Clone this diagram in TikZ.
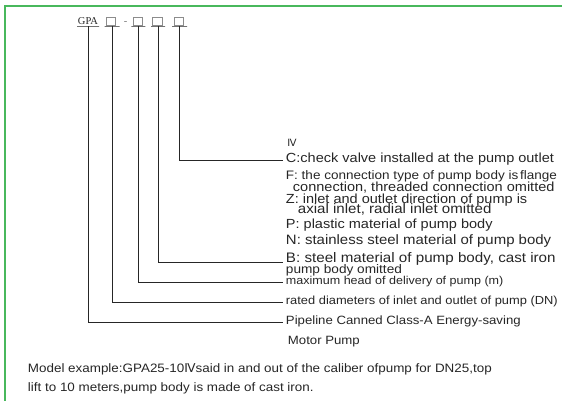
\documentclass[tikz,border=0pt]{standalone}
\usepackage{fontspec}
\setmainfont{Liberation Sans}
\newfontfamily\itemfont[FakeStretch=1.1]{Liberation Sans}
\newfontfamily\codefont{Liberation Serif}
\newfontfamily\numfont{DejaVu Sans}
\newcommand{\sz}[1]{\fontsize{#1}{#1}\selectfont\itemfont}
\newcommand{\rom}{{\numfont Ⅳ}}
\definecolor{framegreen}{RGB}{72,184,92}

\begin{document}
\begin{tikzpicture}[x=1pt,y=-1pt,line width=0.9pt,color=black!85,
    bar/.style={draw,minimum height=0pt,inner sep=0pt,line width=0.7pt},
    slot/.style={draw=black!45,line width=0.5pt,minimum width=9.5pt,minimum height=8pt,inner sep=0pt},
    item/.style={anchor=mid west,inner xsep=2.5pt,inner ysep=0pt}]
    \useasboundingbox (0,0) rectangle (562,401);
    \draw[framegreen,line width=2pt] (4.5,401) -- (4.5,6.5) -- (562,6.5);
    % model code
    \node[inner sep=0pt,anchor=base,font=\codefont\fontsize{10.5}{10.5}\selectfont] (gpa) at (88,24.5) {GPA};
    \node[slot] (s1) at (110.5,21.3) {};
    \node[inner sep=0pt,anchor=base,black!55,font=\codefont\fontsize{10.5}{10.5}\selectfont] (dash) at (125.5,24.5) {-};
    \node[slot] (s2) at (137.5,21.3) {};
    \node[slot] (s3) at (157,21.3) {};
    \node[slot] (s4) at (178.5,21.3) {};
    \node[bar,minimum width=22pt] (u0) at (88,26) {};
    \node[bar,minimum width=15pt] (u1) at (112,26) {};
    \node[bar,minimum width=14pt] (u2) at (138.3,26) {};
    \node[bar,minimum width=14pt] (u3) at (158,26) {};
    \node[bar,minimum width=15pt] (u4) at (179.5,26) {};
    % meanings
    \node[font=\sz{10}\numfont,inner sep=0pt] (rom) at (292,143) {Ⅳ};
    \node[item,font=\sz{13.2}] (lblC) at (283,160) {C:check valve installed at the pump outlet};
    \node[item,font=\sz{12.3}] (lblF) at (283,176.5) {F: the connection type of pump body is\hspace{-2pt} flange};
    \node[item,font=\sz{13.2}] (lblFb) at (290,188.5) {connection, threaded connection omitted};
    \node[item,font=\sz{13.2}] (lblZ) at (283,200.5) {Z: inlet and outlet direction of pump is};
    \node[item,font=\sz{13.7}] (lblZb) at (295,211) {axial inlet, radial inlet omitted};
    \node[item,font=\sz{13.2}] (lblP) at (283,226) {P: plastic material of pump body};
    \node[item,font=\sz{13.6}] (lblN) at (283,242) {N: stainless steel material of pump body};
    \node[item,anchor=base west,font=\sz{13.8}] (lblB) at (283,262) {B: steel material of pump body, cast iron};
    \node[item,font=\sz{12.4}] (lblBb) at (283,271) {pump body omitted};
    \node[item,font=\sz{11.4}] (lblHead) at (283,282) {maximum head of delivery of pump (m)};
    \node[item,font=\sz{11.7}] (lblDN) at (283,302) {rated diameters of inlet and outlet of pump (DN)};
    \node[item,font=\sz{12}] (lblPipe) at (283,322) {Pipeline Canned Class-A Energy-saving};
    \node[item,font=\sz{12}] (lblMotor) at (285,342) {Motor Pump};
    \node[item,font=\sz{12.2}] (ex1) at (25,370) {Model example:GPA25-10\rom said in and out of the caliber ofpump for DN25,top};
    \node[item,font=\sz{12.2}] (ex2) at (25,389) {lift to 10 meters,pump body is made of cast iron.};
    % leaders
    \draw (u0.south) |- (lblPipe.mid west);
    \draw (u1.south) |- (lblDN.mid west);
    \draw (u2.south) |- (lblHead.mid west);
    \draw (u3.south) |- (lblB.base west);
    \draw (u4.south) |- (lblC.mid west);
\end{tikzpicture}
\end{document}
